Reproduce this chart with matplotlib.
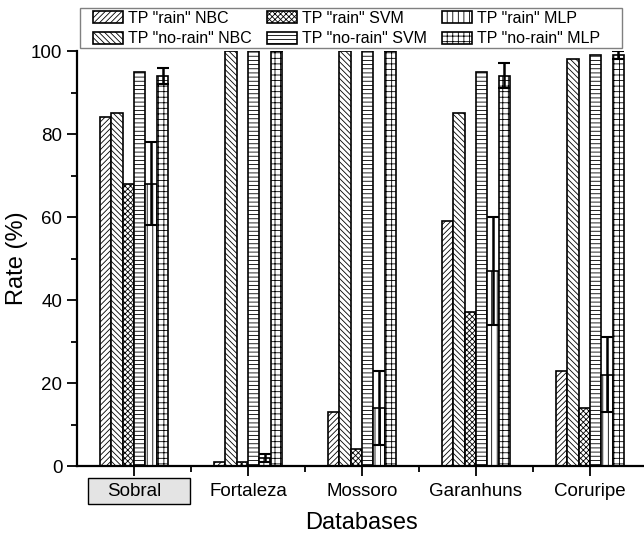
import matplotlib.pyplot as plt
import matplotlib.transforms as mtransforms
from matplotlib.patches import Rectangle
import numpy as np

plt.rcParams['font.family'] = ['Liberation Sans', 'DejaVu Sans']
plt.rcParams['hatch.linewidth'] = 0.6

databases = ['Sobral', 'Fortaleza', 'Mossoro', 'Garanhuns', 'Coruripe']
labels = ['TP "rain" NBC', 'TP "no-rain" NBC', 'TP "rain" SVM',
          'TP "no-rain" SVM', 'TP "rain" MLP', 'TP "no-rain" MLP']

rain_nbc = [84, 1, 13, 59, 23]
norain_nbc = [85, 100, 100, 85, 98]
rain_svm = [68, 1, 4, 37, 14]
norain_svm = [95, 100, 100, 95, 99]
rain_mlp = [68, 2, 14, 47, 22]
norain_mlp = [94, 100, 100, 94, 99]
rain_mlp_err = [10, 1, 9, 13, 9]
norain_mlp_err = [2, 0, 0, 3, 1]

series = [rain_nbc, norain_nbc, rain_svm, norain_svm, rain_mlp, norain_mlp]
errors = [None, None, None, None, rain_mlp_err, norain_mlp_err]
hatches = ['//////', '\\\\\\\\\\\\', 'xxxxxx', '----', '|||', '+++']

fig = plt.figure(figsize=(6.44, 5.33), dpi=100)
ax = fig.add_axes([0.1196, 0.1257, 0.885, 0.7786])

x = np.arange(len(databases))
w = 0.1
handles = []
for k in range(6):
    pos = x - 0.25 + k * w
    b = ax.bar(pos, series[k], w, color='white', edgecolor='black',
               linewidth=1.2, hatch=hatches[k], label=labels[k], zorder=2)
    handles.append(b)
    if errors[k] is not None:
        ax.errorbar(pos, series[k], yerr=errors[k], fmt='none', ecolor='black',
                    elinewidth=1.8, capsize=4, capthick=1.5, zorder=3)

ax.set_xlim(-0.5, 4.5)
ax.set_ylim(0, 100)
ax.set_xticks(x)
ax.set_xticklabels(databases, fontsize=13.5)
ax.set_xticks(x[:-1] + 0.5, minor=True)
ax.set_yticks([0, 20, 40, 60, 80, 100])
ax.set_yticks([10, 30, 50, 70, 90], minor=True)
ax.tick_params(axis='y', labelsize=13.5, length=7, width=1.3, direction='out')
ax.tick_params(axis='y', which='minor', length=4, width=1.3)
ax.tick_params(axis='x', length=7, width=1.3, direction='out', pad=5)
ax.tick_params(axis='x', which='minor', length=4, width=1.3)
for s in ['top', 'right']:
    ax.spines[s].set_visible(False)
for s in ['left', 'bottom']:
    ax.spines[s].set_linewidth(1.6)

ax.set_ylabel('Rate (%)', fontsize=17, labelpad=2)
ax.set_xlabel('Databases', fontsize=17, labelpad=9)

# grey box behind the first category label
trans = mtransforms.blended_transform_factory(ax.transData, ax.transAxes)
ax.add_patch(Rectangle((-0.40, -0.0915), 0.89, 0.063, transform=trans,
                       clip_on=False, facecolor='#e4e4e4', edgecolor='black',
                       linewidth=1.0, zorder=0))

leg = fig.legend(handles, labels, ncol=3, loc='upper left',
                 bbox_to_anchor=(0.144, 0.98), frameon=False,
                 fontsize=11.5, borderpad=0, borderaxespad=0,
                 handlelength=1.9, handleheight=0.8, labelspacing=0.35,
                 handletextpad=0.3, columnspacing=0.95)
# legend frame
fig.patches.append(Rectangle((80 / 644, 1 - 48 / 533), 542 / 644, 40 / 533,
                             transform=fig.transFigure, facecolor='none',
                             edgecolor='#808080', linewidth=1.0))

fig.savefig('out.png', dpi=100)
